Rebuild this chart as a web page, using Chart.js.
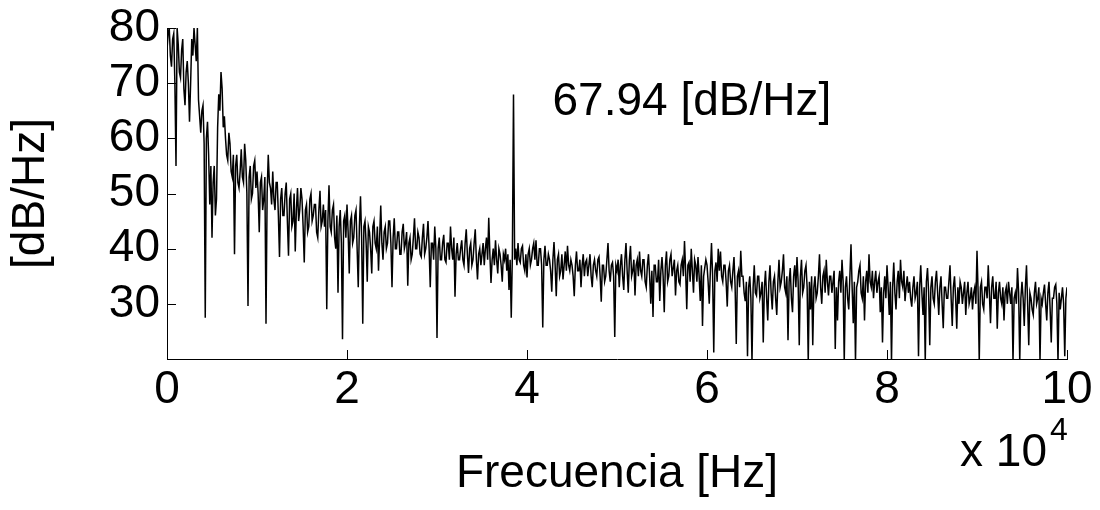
<!DOCTYPE html>
<html>
<head>
<meta charset="utf-8">
<script src="https://cdn.jsdelivr.net/npm/chart.js"></script>
<style>
  body { margin: 0; background: #fff; }
</style>
</head>
<body>
<canvas id="psd-chart" width="1100" height="510"></canvas>
<script>
// spectrum samples, one every 125 Hz from 0 to 100 kHz
let freqStep = 125;
let psdValues = [
  76, 79, 80, 75, 73, 78, 79, 70, 55, 80, 77, 72, 71, 76, 78, 69, 66, 72, 74, 70,
  63, 70, 78, 75, 80, 77, 74, 80, 67, 64, 61, 65, 66, 59, 27.5, 60, 63, 57, 48, 55,
  42, 52, 55, 46, 49, 62, 68, 65, 72, 69, 62, 64, 60, 57, 56, 61, 59, 54, 53, 57,
  39, 55, 57, 52, 51, 54, 58, 53, 52, 59, 56, 50, 29.6, 53, 55, 49, 50, 55, 56, 51,
  54, 50, 43, 52, 53, 47, 49, 53, 26.4, 50, 57, 52, 51, 48, 54, 49, 47, 52, 52, 46,
  38.5, 49, 51, 46, 46, 50, 52, 45, 38.7, 49, 50, 44, 45, 50, 39.5, 47, 51, 45, 47, 51,
  49, 44, 37.5, 47, 48, 43, 44, 49, 50, 45, 46, 48, 48, 43, 42, 47, 50.5, 44, 45, 48,
  44, 47, 29, 45, 51.5, 44, 43, 47, 48, 42, 40, 46, 32, 44, 47, 41, 23.6, 45, 46, 42,
  48, 43, 35.5, 45, 46, 41, 42, 46, 47, 40, 33, 44, 49.5, 42, 26.4, 44, 45, 41, 34, 44,
  43, 40, 35.5, 44, 45, 41, 40, 44, 36, 42, 47.8, 41, 38, 43, 44, 40, 41, 45, 45, 41,
  33, 42, 45.5, 40, 40, 43, 43, 39, 39, 43, 44.5, 40, 41, 43, 33.3, 41, 42, 38, 39, 42,
  45.5, 40, 40, 43, 42, 39, 38.5, 42, 44.5, 39, 40, 42, 45, 40, 33, 41, 41, 38, 44, 40,
  23.8, 40, 42, 38, 38, 41, 42.5, 38, 37.5, 41, 41, 38, 44, 40, 38, 42, 31.3, 39, 41, 38,
  38, 40, 41.5, 38, 37, 41, 43.5, 39, 35.6, 40, 41, 37, 38, 41, 43.5, 38, 34.4, 39, 40, 37,
  39, 41, 37, 40, 42, 38, 45.6, 39, 33.8, 38, 40, 37, 41.5, 38, 35.5, 40, 39, 37, 34, 39,
  38, 40, 36, 39, 32.5, 38, 27.5, 39, 67.94, 38, 40, 37, 41, 38, 37.5, 40, 40.5, 37, 36, 39,
  34.8, 39, 40, 37, 38, 40, 41, 38, 41.5, 37, 37, 40, 40, 37, 25.7, 38, 40.5, 37, 37, 39,
  38, 36, 32.2, 38, 41.2, 37, 31.4, 38, 39, 35, 36, 39, 34.4, 37, 39.5, 36, 40.5, 37, 36, 38,
  37, 35, 31.4, 37, 39.5, 36, 36, 38, 33, 37, 39, 35, 37.5, 38, 35, 37, 39, 35, 33, 37,
  38, 36, 35, 38, 38.5, 35, 30.4, 37, 37, 34, 35, 38, 41, 36, 34, 37, 37.5, 35, 24, 37,
  36, 38, 33, 37, 39, 35, 32.5, 38, 41, 36, 32, 38, 40.5, 35, 36, 38, 31.5, 37, 38, 35,
  39.5, 36, 35, 38, 38, 34, 33, 37, 39, 35, 30, 36, 27.6, 37, 37, 34, 34, 38, 30.5, 36,
  38.5, 35, 28.5, 37, 39.5, 34, 35, 38, 39, 35, 36.5, 38, 31.5, 36, 37, 34, 33.5, 37, 38, 35,
  41.4, 36, 29, 37, 37.5, 34, 40, 36, 32, 38, 37, 34, 38.5, 35, 30.5, 37, 26, 35, 36.5, 38,
  37, 34, 30, 36, 41, 35, 21.2, 36, 37.5, 34, 40, 36, 39.5, 35, 34, 37, 37, 34, 29.5, 36,
  37, 34, 33, 36, 38.5, 33, 22.7, 35, 36, 33, 39.6, 35, 35, 32, 30.5, 34, 20.5, 33, 35, 31,
  19.5, 33, 37, 32, 31.5, 35, 35, 31, 32, 34, 23, 33, 36, 31, 27, 34, 37, 32, 29, 34,
  35, 31, 28, 34, 38, 33, 34, 36, 39, 33, 32, 35, 23.4, 34, 36.5, 31, 28.5, 35, 37, 33,
  38.5, 34, 22.5, 35, 38, 32, 33, 36, 37, 33, 19.5, 34, 29, 35, 22.5, 33, 35, 31, 32, 35,
  39, 33, 30, 35, 36, 32, 38, 34, 31.5, 35, 35, 32, 34, 36, 21.8, 33, 27, 34, 36, 32,
  38, 34, 19.5, 33, 35, 31, 29, 35, 40.8, 33, 26.5, 34, 19.5, 33, 34, 36, 37, 32, 31, 35,
  27, 34, 36, 32, 39, 34, 33, 36, 31, 34, 36, 32, 34, 35, 28.5, 33, 23, 32, 35, 31,
  37, 33, 28, 34, 19.5, 33, 37.5, 32, 29, 34, 36, 31, 38, 34, 33, 36, 30.5, 33, 35, 32,
  34, 31, 29.5, 33, 35, 31, 32, 34, 20.5, 33, 37, 32, 28, 33, 19.5, 34, 36.5, 32, 22.5, 33,
  35, 31, 30, 34, 36, 32, 28, 33, 35, 30, 25.6, 33, 33, 31, 31, 34, 37, 31, 26, 33,
  35, 31, 25.5, 33, 30, 34, 33, 30, 32, 34, 28, 32, 34, 30, 31, 33, 29, 32, 33, 30,
  39.6, 32, 19.5, 33, 34, 30, 29, 33, 33, 31, 37, 32, 26.5, 33, 35, 31, 31, 34, 25.5, 32,
  34, 31, 30, 33, 27, 32, 33, 30, 34, 32, 30, 33, 19.5, 31, 32, 30, 36.5, 32, 19.5, 31,
  34, 31, 26, 33, 37, 30, 22.5, 32, 31, 29, 28, 32, 34, 30, 31, 33, 19.5, 31, 30, 32,
  33.5, 30, 27, 32, 34, 29, 23, 31, 31, 33, 33.5, 30, 19.5, 32, 29, 31, 33, 30, 20.5, 31,
  33
];
let xTicks = [0, 2, 4, 6, 8, 10];       // x 10^4 Hz
let yTicks = [30, 40, 50, 60, 70, 80];  // dB/Hz
let peakLabel = "67.94 [dB/Hz]";

let fontFamily = "'Liberation Sans', Arial, sans-serif";

let points = psdValues.map(function(v, i) {
  return { x: i * freqStep, y: v };
});

// small inward tick marks, matlab style, plus the extra texts
let insideTicks = {
  id: "insideTicks",
  afterDraw: function(chart) {
    let ctx = chart.ctx;
    let xs = chart.scales.x;
    let ys = chart.scales.y;
    ctx.save();
    ctx.strokeStyle = "#000";
    ctx.lineWidth = 1;
    ctx.beginPath();
    xs.ticks.forEach(function(t) {
      let px = Math.round(xs.getPixelForValue(t.value)) + 0.5;
      ctx.moveTo(px, ys.bottom);
      ctx.lineTo(px, ys.bottom - 9);
    });
    ys.ticks.forEach(function(t) {
      let py = Math.round(ys.getPixelForValue(t.value)) + 0.5;
      ctx.moveTo(xs.left, py);
      ctx.lineTo(xs.left + 9, py);
    });
    ctx.stroke();

    // exponent for the x axis
    ctx.fillStyle = "#000";
    ctx.textBaseline = "alphabetic";
    ctx.font = "46px " + fontFamily;
    ctx.textAlign = "right";
    ctx.fillText("x 10", xs.right - 20, 466);
    ctx.font = "32px " + fontFamily;
    ctx.textAlign = "left";
    ctx.fillText("4", xs.right - 17, 440);

    // label next to the peak
    let peakIdx = psdValues.indexOf(Math.max.apply(null, psdValues.slice(100)));
    let peakX = xs.getPixelForValue(peakIdx * freqStep);
    let peakY = ys.getPixelForValue(psdValues[peakIdx]);
    ctx.font = "46px " + fontFamily;
    ctx.fillText(peakLabel, peakX + 39, peakY + 20);
    ctx.restore();
  }
};

let ctx = document.getElementById("psd-chart").getContext("2d");
let psdChart = new Chart(ctx, {
  type: "line",
  data: {
    datasets: [
      {
        label: "PSD",
        data: points,
        borderColor: "#000",
        borderWidth: 1.5,
        pointRadius: 0,
        tension: 0,
        fill: false
      }
    ]
  },
  options: {
    responsive: false,
    devicePixelRatio: 1,
    animation: false,
    layout: { padding: { top: 28, right: 33, left: 0, bottom: 0 } },
    plugins: {
      legend: { display: false },
      tooltip: { enabled: false }
    },
    scales: {
      x: {
        type: "linear",
        min: 0,
        max: 100000,
        afterBuildTicks: function(scale) {
          scale.ticks = xTicks.map(function(v) { return { value: v * 10000 }; });
        },
        afterFit: function(scale) { scale.height = 151; },
        ticks: {
          color: "#000",
          font: { family: fontFamily, size: 46 },
          padding: -4,
          maxRotation: 0,
          autoSkip: false,
          callback: function(v) { return v / 10000; }
        },
        grid: { display: false },
        border: { display: true, color: "#000", width: 1 },
        title: {
          display: true,
          text: "Frecuencia [Hz]",
          color: "#000",
          font: { family: fontFamily, size: 46, lineHeight: 1.2 },
          padding: { top: 0, bottom: 8 }
        }
      },
      y: {
        min: 20,
        max: 80,
        afterBuildTicks: function(scale) {
          scale.ticks = yTicks.map(function(v) { return { value: v }; });
        },
        afterFit: function(scale) { scale.width = 167; },
        ticks: {
          color: "#000",
          font: { family: fontFamily, size: 46 },
          padding: -1,
          autoSkip: false
        },
        grid: { display: false },
        border: { display: true, color: "#000", width: 1 },
        title: {
          display: true,
          text: "[dB/Hz]",
          color: "#000",
          font: { family: fontFamily, size: 46, lineHeight: 1.2 },
          padding: { top: 4, bottom: 0 }
        }
      }
    }
  },
  plugins: [insideTicks]
});
</script>
</body>
</html>
